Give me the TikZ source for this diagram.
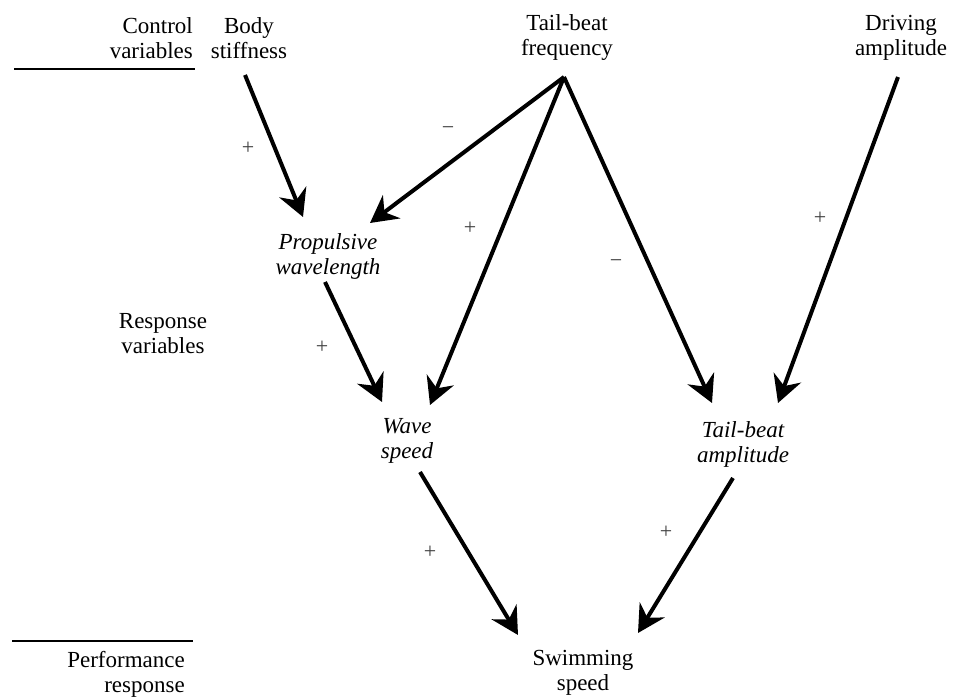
\documentclass[tikz,border=0pt]{standalone}
\usepackage{fontspec}
\setmainfont{Liberation Serif}
\usetikzlibrary{arrows.meta}
\begin{document}
\begin{tikzpicture}[x=1pt,y=-1pt,
  lbl/.style={font=\fontsize{23}{25}\selectfont, align=center, inner sep=0pt},
  resp/.style={lbl, font=\fontsize{23}{25}\selectfont\itshape},
  sgn/.style={font=\fontsize{22}{22}\selectfont, text=black!75, inner sep=0pt},
  conn/.style={line width=4pt, -{Stealth[length=27pt,width=29pt,inset=9pt]}},
  rule/.style={line width=1.6pt}]
\useasboundingbox (0,0) rectangle (966,700);
% labels
\node[lbl, align=right, anchor=east] (ctrl) at (193,38) {Control\\variables};
\node[lbl] (body) at (249,38) {Body\\stiffness};
\node[lbl] (freq) at (567,38) {Tail-beat\\frequency};
\node[lbl] (drive) at (901,38) {Driving\\amplitude};
\node[resp] (prop) at (328,256) {Propulsive\\wavelength};
\node[lbl] (respv) at (163,334) {Response\\variables};
\node[resp] (wave) at (407,441) {Wave\\speed};
\node[resp] (tamp) at (743,444) {Tail-beat\\amplitude};
\node[lbl] (swim) at (583,673) {Swimming\\speed};
\node[lbl, align=right, anchor=east] (perf) at (185,674) {Performance\\response};
% rules
\coordinate (r1a) at (14,69); \coordinate (r1b) at (195,69);
\coordinate (r2a) at (12,641); \coordinate (r2b) at (193,641);
\draw[rule] (r1a) -- (r1b);
\draw[rule] (r2a) -- (r2b);
% connector end points
\coordinate (bodyS) at (245,75);
\coordinate (freqS) at (564,77);
\coordinate (driveS) at (898,77);
\coordinate (propN1) at (303,217);
\coordinate (propN2) at (370,223);
\coordinate (propS) at (325,282);
\coordinate (waveN1) at (382,402);
\coordinate (waveN2) at (430,405);
\coordinate (waveS) at (420,472);
\coordinate (tampN1) at (712,403);
\coordinate (tampN2) at (778,403);
\coordinate (tampS) at (733,478);
\coordinate (swimN1) at (518,635);
\coordinate (swimN2) at (638,633);
% connectors
\draw[conn] (bodyS) -- (propN1);
\draw[conn] (freqS) -- (propN2);
\draw[conn] (freqS) -- (waveN2);
\draw[conn] (freqS) -- (tampN1);
\draw[conn] (driveS) -- (tampN2);
\draw[conn] (propS) -- (waveN1);
\draw[conn] (waveS) -- (swimN1);
\draw[conn] (tampS) -- (swimN2);
% signs
\node[sgn] (s1) at (248,148) {+};
\node[sgn] (s2) at (448,131) {\textminus};
\node[sgn] (s3) at (470,228) {+};
\node[sgn] (s4) at (616,264) {\textminus};
\node[sgn] (s5) at (820,218) {+};
\node[sgn] (s6) at (322,347) {+};
\node[sgn] (s7) at (430,552) {+};
\node[sgn] (s8) at (666,532) {+};
\end{tikzpicture}
\end{document}
